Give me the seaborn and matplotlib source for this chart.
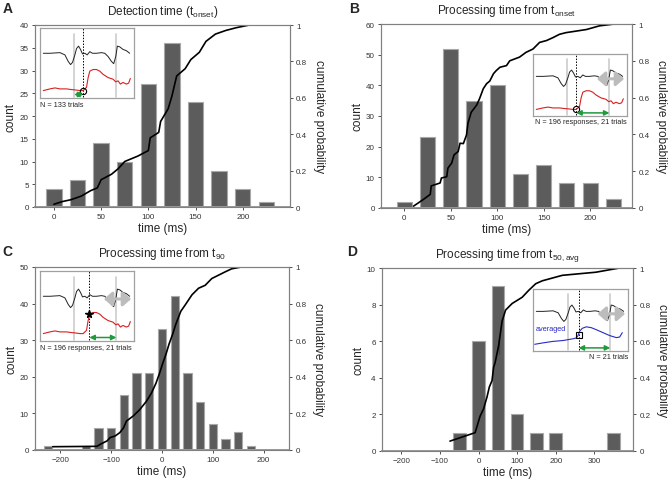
import numpy as np
import pandas as pd
import matplotlib
matplotlib.use("Agg")
import matplotlib.pyplot as plt
import seaborn as sns

# ---------------------------------------------------------------------------
# Data
# ---------------------------------------------------------------------------

# A: detection time (t_onset)
A_centers = [0, 25, 50, 75, 100, 125, 150, 175, 200, 225]
A_counts = [4, 6, 14, 10, 27, 36, 23, 8, 4, 1]
A_cdf_t = [0, 9, 18, 29, 39, 46, 50, 61, 68, 75, 89, 100, 102, 111, 113, 121,
           125, 130, 139, 145, 154, 161, 171, 182, 193, 207, 221]
A_cdf_p = [0.015, 0.03, 0.04, 0.06, 0.09, 0.105, 0.15, 0.18, 0.21, 0.25, 0.28,
           0.31, 0.38, 0.41, 0.47, 0.54, 0.61, 0.72, 0.76, 0.81, 0.85, 0.91,
           0.95, 0.97, 0.985, 1.0, 1.0]

# B: processing time from t_onset
B_centers = [0, 25, 50, 75, 100, 125, 150, 175, 200, 225]
B_counts = [2, 23, 52, 35, 40, 11, 14, 8, 8, 3]
B_cdf_t = [10, 20.7, 28, 29, 38.6, 40, 45.7, 47, 51, 53.6, 58, 60, 63.6, 67,
           68.5, 72, 78, 81, 85, 88.5, 92, 96, 99, 103, 110, 113.5, 124, 131,
           138.5, 145.6, 153, 160, 167, 174, 196, 210, 226]
B_cdf_p = [0.01, 0.047, 0.074, 0.12, 0.136, 0.163, 0.17, 0.217, 0.244, 0.289,
           0.307, 0.352, 0.35, 0.397, 0.46, 0.52, 0.56, 0.594, 0.648, 0.675,
           0.69, 0.73, 0.747, 0.765, 0.774, 0.8, 0.82, 0.846, 0.864, 0.9, 0.91,
           0.926, 0.944, 0.953, 0.97, 0.99, 1.0]

# C: processing time from t90
C_centers = [-225, -150, -125, -100, -75, -50, -25, 0, 25, 50, 75, 100, 125, 150, 175]
C_counts = [1, 1, 6, 6, 15, 21, 21, 33, 42, 21, 13, 7, 3, 5, 1]
C_cdf_t = [-215, -128, -121, -108, -102, -92, -83, -76, -70, -57, -44, -31,
           -21, -12, -5, 1, 8, 14, 21, 27, 37, 46, 59, 72, 85, 98, 111, 124,
           137, 156]
C_cdf_p = [0.018, 0.02, 0.032, 0.05, 0.068, 0.077, 0.095, 0.12, 0.158, 0.185,
           0.22, 0.265, 0.31, 0.364, 0.418, 0.47, 0.525, 0.58, 0.633, 0.686,
           0.758, 0.794, 0.848, 0.884, 0.9, 0.937, 0.955, 0.973, 0.99, 1.0]

# D: processing time from t50,avg
D_centers = [-50, 0, 50, 100, 150, 200, 350]
D_counts = [1, 6, 9, 2, 1, 1, 1]
D_cdf_t = [-74, -9, -4, 4, 13, 22, 28, 35, 39, 43, 52, 52, 61, 70, 87, 113,
           130, 148, 165, 217, 304, 365]
D_cdf_p = [0.054, 0.1, 0.134, 0.19, 0.23, 0.296, 0.35, 0.385, 0.457, 0.484,
           0.53, 0.62, 0.71, 0.77, 0.806, 0.84, 0.878, 0.914, 0.93, 0.96,
           0.977, 1.0]

# inset example traces (normalised inset coordinates)
black_x = [0.035, 0.106, 0.212, 0.265, 0.30, 0.325, 0.346, 0.371, 0.389, 0.41,
           0.431, 0.452, 0.477, 0.502, 0.53, 0.558, 0.60, 0.654, 0.689, 0.724,
           0.76, 0.784, 0.806, 0.823, 0.848, 0.883, 0.919, 0.954]
black_y = [0.639, 0.639, 0.648, 0.616, 0.523, 0.477, 0.509, 0.616, 0.708,
           0.741, 0.694, 0.63, 0.639, 0.616, 0.662, 0.639, 0.639, 0.648, 0.639,
           0.593, 0.523, 0.49, 0.593, 0.741, 0.731, 0.694, 0.676, 0.639]
red_x = [0.035, 0.106, 0.159, 0.212, 0.283, 0.336, 0.371, 0.424, 0.459, 0.495,
         0.512, 0.53, 0.565, 0.60, 0.636, 0.671, 0.724, 0.777, 0.806, 0.83,
         0.855, 0.883, 0.919, 0.943, 0.961]
red_y = [0.106, 0.13, 0.144, 0.13, 0.13, 0.12, 0.116, 0.106, 0.106, 0.153,
         0.292, 0.384, 0.407, 0.407, 0.384, 0.338, 0.292, 0.269, 0.231, 0.245,
         0.199, 0.222, 0.199, 0.213, 0.278]
blue_x = [0.018, 0.105, 0.21, 0.316, 0.421, 0.456, 0.474, 0.491, 0.519, 0.561,
          0.614, 0.667, 0.737, 0.807, 0.877, 0.912, 0.94]
blue_y = [0.108, 0.131, 0.155, 0.169, 0.197, 0.211, 0.249, 0.319, 0.366, 0.39,
          0.376, 0.343, 0.296, 0.249, 0.216, 0.225, 0.296]

# ---------------------------------------------------------------------------
# Style
# ---------------------------------------------------------------------------
sns.set_style("ticks")
plt.rcParams["font.family"] = ["Liberation Sans", "DejaVu Sans"]
plt.rcParams["mathtext.fontset"] = "custom"
plt.rcParams["mathtext.rm"] = "Liberation Sans"

BAR = "#5c5c5c"
BAR_EDGE = "#a8a8a8"
SPINE = "#808080"
W, H = 668, 481


def px_rect(l, t, r, b):
    return [l / W, 1 - b / H, (r - l) / W, (b - t) / H]


def draw_panel(rect, centers, counts, cdf_t, cdf_p, binw, xlim, xticks,
               ymax, ystep, title, letter, letter_xy):
    ax = fig.add_axes(px_rect(*rect))
    hist_df = pd.DataFrame({"t": centers, "n": counts})
    sns.histplot(data=hist_df, x="t", weights="n", binwidth=binw,
                 binrange=(min(centers) - binw / 2, max(centers) + binw / 2),
                 shrink=0.65, color=BAR, alpha=1, edgecolor=BAR_EDGE,
                 linewidth=0.8, ax=ax)
    ax.set_xlim(*xlim)
    ax.set_ylim(0, ymax)
    ax.set_xticks(xticks)
    ax.set_yticks(np.arange(0, ymax + 0.1, ystep))
    ax.set_xlabel("time (ms)", fontsize=8.5, labelpad=1)
    ax.set_ylabel("count", fontsize=8.5, labelpad=2)
    ax.set_title(title, fontsize=8.5, pad=8)
    ax.tick_params(labelsize=5.8, direction="out", length=2.5, width=0.6,
                   colors="#333333", pad=2)

    ax2 = ax.twinx()
    sns.lineplot(x=cdf_t, y=cdf_p, sort=False, color="black", lw=1.2, ax=ax2)
    ax2.set_ylim(0, 1)
    ax2.set_yticks([0, 0.2, 0.4, 0.6, 0.8, 1])
    ax2.set_yticklabels(["0", "0.2", "0.4", "0.6", "0.8", "1"])
    ax2.set_ylabel("cumulative probability", fontsize=8.5, rotation=270,
                   va="bottom", labelpad=4)
    ax2.tick_params(labelsize=5.8, direction="out", length=2.5, width=0.6,
                    colors="#333333", pad=2)
    for a in (ax, ax2):
        for s in a.spines.values():
            s.set_visible(True)
            s.set_color(SPINE)
            s.set_linewidth(0.8)
    ax.spines["bottom"].set_color("#9a9a9a")
    ax.spines["bottom"].set_linewidth(1.4)

    fig.text(letter_xy[0] / W, 1 - letter_xy[1] / H, letter, fontsize=10,
             fontweight="bold", ha="left", va="top")
    return ax


def draw_inset(rect, trace2_x, trace2_y, trace2_color, mark_x, mark_y,
               marker, arrow_from, show_gray_arrow, note, note_right):
    ins = fig.add_axes(px_rect(*rect))
    ins.set_zorder(10)
    ins.set_xlim(0, 1)
    ins.set_ylim(0, 1)
    ins.set_xticks([])
    ins.set_yticks([])
    ins.set_facecolor("white")
    for s in ins.spines.values():
        s.set_color("#a0a0a0")
        s.set_linewidth(0.9)

    for gx in (0.364, 0.813):
        ins.plot([gx, gx], [0.02, 0.92], color="#cccccc", lw=1.2)
    ins.plot([mark_x, mark_x], [0.02, 1.0], color="black", lw=0.7, ls=(0, (1.5, 1.5)))

    if show_gray_arrow:
        ins.annotate("", xy=(0.97, 0.6), xytext=(0.68, 0.6),
                     arrowprops=dict(arrowstyle="<|-|>,head_length=0.8,head_width=0.7",
                                     color="#bcbcbc", lw=2.2, mutation_scale=6,
                                     shrinkA=0, shrinkB=0))

    sns.lineplot(x=black_x, y=black_y, sort=False, color="#222222", lw=0.7, ax=ins)
    sns.lineplot(x=trace2_x, y=trace2_y, sort=False, color=trace2_color, lw=0.8, ax=ins)

    if marker == "o":
        ins.plot(mark_x, mark_y, "o", mfc="none", mec="black", ms=4.5, mew=0.8)
    elif marker == "*":
        ins.plot(mark_x, mark_y, "*", color="black", ms=5.5)
    else:
        ins.plot(mark_x, mark_y, "s", mfc="none", mec="black", ms=4, mew=0.8)

    x0, x1 = (arrow_from, mark_x) if arrow_from < mark_x else (mark_x, arrow_from)
    ins.annotate("", xy=(x1, 0.05), xytext=(x0, 0.05),
                 arrowprops=dict(arrowstyle="<|-|>,head_length=0.5,head_width=0.25",
                                 color="#1f9a3c", lw=1.1, mutation_scale=6,
                                 shrinkA=0, shrinkB=0))
    if note_right:
        ins.text(1.0, -0.04, note, transform=ins.transAxes, ha="right",
                 va="top", fontsize=5.3)
    else:
        ins.text(0.0, -0.04, note, transform=ins.transAxes, ha="left",
                 va="top", fontsize=5.3)
    return ins


fig = plt.figure(figsize=(W / 100, H / 100), dpi=100)

draw_panel((35, 26, 290, 208), A_centers, A_counts, A_cdf_t, A_cdf_p, 25,
           (-20, 250), [0, 50, 100, 150, 200], 40, 5,
           r"Detection time (t$_{\mathregular{onset}}$)", "A", (3, 2))
draw_panel((381, 25, 632, 209), B_centers, B_counts, B_cdf_t, B_cdf_p, 25,
           (-25, 245), [0, 50, 100, 150, 200], 60, 10,
           r"Processing time from t$_{\mathregular{onset}}$", "B", (349, 2))
draw_panel((35, 268, 289, 451), C_centers, C_counts, C_cdf_t, C_cdf_p, 25,
           (-250, 250), [-200, -100, 0, 100, 200], 50, 10,
           r"Processing time from t$_{\mathregular{90}}$", "C", (2, 245))
draw_panel((382, 269, 633, 452), D_centers, D_counts, D_cdf_t, D_cdf_p, 50,
           (-250, 400), [-200, -100, 0, 100, 200, 300], 10, 2,
           r"Processing time from t$_{\mathregular{50,avg}}$", "D", (347, 245))

draw_inset((40, 29, 134, 99), red_x, red_y, "#d82020", 0.46, 0.106, "o",
           0.364, False, "N = 133 trials", False)
draw_inset((533, 55, 627, 117), red_x, red_y, "#d82020", 0.46, 0.106, "o",
           0.813, True, "N = 196 responses, 21 trials", True)
draw_inset((40, 272, 134, 342), red_x, red_y, "#d82020", 0.525, 0.39, "*",
           0.813, True, "N = 196 responses, 21 trials", False)
ins_d = draw_inset((533, 290, 628, 352), blue_x, blue_y, "#2a2ac8", 0.48, 0.263,
                   "s", 0.813, True, "N = 21 trials", True)
ins_d.text(0.03, 0.30, "averaged", color="#2a2ac8", fontsize=5.3,
           ha="left", va="bottom")

fig.savefig("out.png", dpi=100)
